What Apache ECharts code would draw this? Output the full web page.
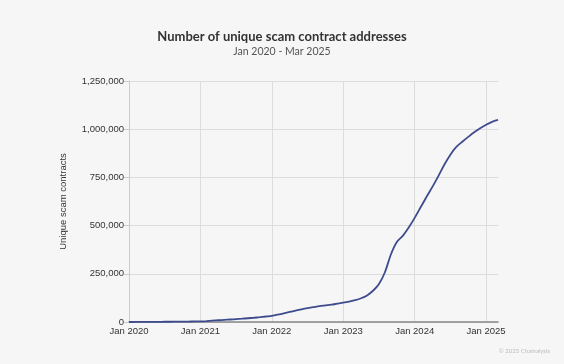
<!DOCTYPE html>
<html><head><meta charset="utf-8">
<script src="https://cdn.jsdelivr.net/npm/echarts@6/dist/echarts.min.js"></script>
<style>html,body{margin:0;padding:0;background:#f6f6f6}#c{width:564px;height:364px}</style>
</head><body><div id="c"></div>
<script>
const years = [2020, 2021, 2022, 2023, 2024, 2025];
const monthNames = ['Jan','Feb','Mar','Apr','May','Jun','Jul','Aug','Sep','Oct','Nov','Dec'];
const months = [];
for (const y of years) for (let m = 0; m < 12; m++) { if (y === 2025 && m > 2) break; months.push(monthNames[m] + ' ' + y); }
const y2020 = [0, 200, 400, 600, 800, 1000, 1200, 1400, 1700, 2000, 2400, 2800];
const y2021 = [3500, 5000, 7000, 9000, 11000, 13000, 15000, 17000, 19500, 22000, 25000, 28500];
const y2022 = [32000, 38000, 45000, 52000, 59000, 66000, 72000, 77000, 82000, 86000, 90000, 95000];
const y2023 = [100000, 106000, 113000, 123000, 138000, 162000, 197000, 258000, 350000, 415000, 447000, 490000];
const y2024 = [540000, 595000, 650000, 702000, 758000, 817000, 868000, 908000, 935000, 960000, 984000, 1005000];
const y2025 = [1023000, 1038000, 1048000];
const values = [].concat(y2020, y2021, y2022, y2023, y2024, y2025);

const chart = echarts.init(document.getElementById('c'), null, {renderer: 'canvas'});
chart.setOption({
  backgroundColor: '#f6f6f6',
  animation: false,
  title: {
    text: 'Number of unique scam contract addresses',
    subtext: 'Jan 2020 - Mar 2025',
    left: 'center', top: 25, itemGap: 3,
    textStyle: {fontFamily: 'Lato', fontWeight: 'bold', fontSize: 13, color: '#333'},
    subtextStyle: {fontFamily: 'Lato', fontSize: 10.5, color: '#555'}
  },
  graphic: [{
    type: 'text', right: 14, bottom: 10,
    style: {text: '© 2025 Chainalysis', fontFamily: 'Lato', fontSize: 6, fill: '#bbb'}
  }],
  grid: {left: 129, right: 66, top: 81, bottom: 42},
  xAxis: {
    type: 'category', data: months, boundaryGap: false,
    axisLine: {lineStyle: {color: '#888', width: 1.5}},
    axisTick: {show: false},
    axisLabel: {
      interval: function (i) { return i % 12 === 0; },
      formatter: v => v,
      fontFamily: 'Liberation Sans', fontSize: 9.5, color: '#333', margin: 4
    },
    splitLine: {show: true, interval: function (i) { return i % 12 === 0; }, lineStyle: {color: '#dcdcdc'}}
  },
  yAxis: {
    type: 'value', min: 0, max: 1250000, interval: 250000,
    name: 'Unique scam contracts', nameLocation: 'middle', nameGap: 61,
    nameTextStyle: {fontFamily: 'Liberation Sans', fontSize: 9.5, color: '#333', padding: [0, 0, 0, 0]},
    axisLine: {show: true, lineStyle: {color: '#ccc'}},
    axisTick: {show: true, length: 5, lineStyle: {color: '#ccc'}},
    axisLabel: {
      formatter: v => v.toLocaleString('en-US'),
      fontFamily: 'Liberation Sans', fontSize: 9.5, color: '#333', margin: 5
    },
    splitLine: {lineStyle: {color: '#dcdcdc'}}
  },
  series: [{
    type: 'line', data: values, smooth: 0.3, showSymbol: false,
    lineStyle: {color: '#3e4c8e', width: 1.8}
  }]
});
</script></body></html>
